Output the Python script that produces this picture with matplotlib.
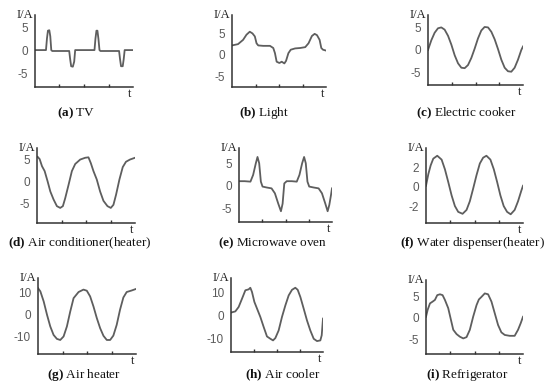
import matplotlib
matplotlib.use("Agg")
import matplotlib.pyplot as plt

plt.rcParams['mathtext.fontset'] = 'custom'
plt.rcParams['mathtext.bf'] = 'Liberation Serif:bold'
plt.rcParams['mathtext.rm'] = 'Liberation Serif'

# ---- data (time in % of the window, current in A) ----
tv_t = [0, 11.2, 12.2, 13.2, 14.6, 15.6, 16.6, 17.6, 34.9, 35.9, 36.9, 38.6, 40.0, 41.0,
        60.7, 61.7, 62.7, 63.7, 64.7, 65.8, 66.8, 85.8, 86.8, 87.8, 89.5, 90.5, 91.5, 100]
tv_i = [0, 0, 2.5, 4.2, 4.3, 3.0, 0, -0.2, -0.2, -2.0, -3.5, -3.6, -2.5, 0,
        0, 2.5, 4.2, 4.2, 2.5, 0, -0.2, -0.2, -2.0, -3.5, -3.5, -2.0, 0, 0]

light_t = [0, 6.4, 11.8, 15.4, 18.9, 21.8, 24.3, 26.1, 27.9, 33.2, 40.4, 43.9, 45.7, 47.5,
           50.4, 52.9, 55.7, 57.5, 60.0, 62.5, 67.1, 72.5, 77.9, 81.4, 85.0, 87.9, 90.4,
           93.2, 95.0, 96.8, 100]
light_i = [2.2, 2.5, 3.5, 4.7, 5.4, 5.0, 4.3, 2.7, 2.2, 2.1, 2.1, 1.6, 0.4, -1.6,
           -1.9, -1.6, -2.0, -1.4, 0.4, 1.2, 1.5, 1.6, 1.8, 2.7, 4.4, 4.9, 4.6,
           3.5, 1.6, 1.2, 1.0]

cooker_t = [0, 3.5, 7.0, 10.5, 14.0, 17.5, 21.1, 24.6, 28.1, 31.6, 35.1, 38.6, 42.1, 45.6,
            49.1, 52.6, 56.1, 59.6, 63.2, 66.7, 70.2, 73.7, 77.2, 80.7, 84.2, 87.7, 91.2,
            94.7, 98.2, 100]
cooker_i = [0, 2.2, 3.9, 4.9, 5.1, 4.6, 3.2, 1.2, -1.2, -3.0, -4.0, -4.1, -3.4, -1.8,
            0.3, 2.6, 4.4, 5.2, 5.1, 4.1, 2.4, 0.2, -2.2, -4.0, -4.8, -4.9, -4.0,
            -2.2, 0.0, 0.8]

ac_t = [0.7, 2.7, 5.1, 7.8, 10.8, 13.6, 16.9, 20.3, 23.7, 26.4, 28.8, 32.2, 35.6, 39.0,
        44.1, 49.2, 52.5, 54.9, 57.6, 61.0, 64.4, 67.8, 71.9, 75.3, 78.0, 80.7, 84.1,
        87.5, 90.8, 94.9, 100]
ac_i = [5.5, 5.0, 3.4, 2.3, 0, -2.3, -4.1, -5.6, -6.0, -5.6, -3.8, -0.8, 2.3, 3.9,
        4.9, 5.3, 5.4, 4.1, 2.3, 0.4, -2.3, -4.4, -5.6, -6.0, -5.3, -3.0, 0.4,
        3.2, 4.4, 4.9, 5.3]

mw_t = [0, 6.1, 12.3, 15.2, 18.1, 19.9, 21.7, 23.5, 25.3, 29.6, 35.0, 38.6, 42.2, 45.1,
        46.9, 48.7, 51.3, 56.7, 62.1, 65.0, 67.9, 70.0, 71.8, 73.6, 75.5, 80.1, 85.6,
        89.2, 92.8, 95.3, 97.1, 98.9, 100]
mw_i = [1.0, 1.0, 0.9, 2.4, 5.0, 6.4, 5.0, 0.9, -0.2, -0.4, -0.6, -1.7, -4.0, -5.7,
        -4.0, 0.5, 1.0, 1.0, 0.9, 2.4, 5.0, 6.4, 5.0, 0.9, -0.2, -0.4, -0.6,
        -1.7, -4.0, -5.7, -4.3, -2.1, -0.6]

wd_t = [0, 2.4, 4.8, 7.5, 11.6, 16.1, 19.5, 22.9, 26.4, 29.8, 33.2, 37.7, 41.8, 45.2,
        48.6, 52.1, 55.5, 58.9, 62.3, 66.4, 69.9, 73.3, 76.7, 80.1, 83.6, 87.3, 91.4,
        94.9, 98.3, 100]
wd_i = [0.1, 1.3, 2.2, 2.9, 3.2, 2.8, 1.8, 0.5, -0.9, -2.0, -2.6, -2.8, -2.4, -1.5,
        -0.2, 1.2, 2.4, 3.0, 3.2, 2.8, 1.8, 0.5, -0.9, -2.0, -2.6, -2.85, -2.4,
        -1.5, -0.4, 0.1]

ah_t = [0, 2.4, 5.8, 9.2, 12.5, 15.9, 19.3, 22.7, 26.1, 29.5, 32.9, 36.3, 41.4, 46.4,
        49.8, 53.2, 56.6, 60.0, 63.4, 66.8, 70.2, 73.6, 76.9, 80.3, 83.7, 87.1, 90.5,
        95.6, 100]
ah_i = [12.2, 10.7, 6.1, 0, -5.3, -9.2, -11.0, -11.5, -9.9, -5.3, 1.5, 7.6, 10.4, 11.5,
        11.0, 8.4, 3.8, -1.5, -6.1, -9.6, -11.5, -11.5, -9.5, -4.6, 2.3, 7.9, 10.4,
        11.1, 11.8]

acool_t = [0, 4.7, 8.3, 12.0, 15.6, 19.2, 21.0, 22.8, 25.4, 28.3, 31.9, 35.5, 39.1, 42.8,
           45.7, 48.2, 51.8, 55.4, 59.1, 62.7, 66.3, 69.9, 72.5, 75.4, 79.0, 82.6, 86.2,
           89.9, 93.5, 97.1, 98.6, 100]
acool_i = [1.2, 1.7, 3.6, 7.2, 10.8, 11.2, 11.9, 10.1, 5.8, 2.9, -0.7, -5.0, -9.1, -10.1,
           -10.8, -9.8, -6.5, -0.7, 4.3, 8.6, 11.0, 11.9, 11.0, 7.9, 2.9, -2.2, -6.5,
           -10.1, -11.1, -10.8, -8.6, -1.4]

fr_t = [0, 1.7, 4.1, 6.8, 9.2, 11.6, 14.4, 17.1, 19.5, 22.9, 25.7, 28.1, 31.5, 34.9,
        38.4, 41.8, 45.2, 48.6, 52.1, 54.5, 57.2, 60.6, 64.0, 67.5, 70.9, 74.3, 77.7,
        81.2, 86.3, 91.4, 94.9, 97.6, 100]
fr_i = [0.2, 1.8, 3.3, 3.7, 4.1, 5.2, 5.4, 5.2, 4.1, 2.2, -0.5, -2.8, -3.8, -4.4,
        -4.8, -4.5, -2.8, 0.2, 2.9, 4.2, 4.8, 5.6, 5.4, 3.7, 1.0, -1.7, -3.4,
        -4.0, -4.2, -4.2, -2.8, -1.3, 0.2]

letters = ['a', 'b', 'c', 'd', 'e', 'f', 'g', 'h', 'i']
names = ['TV', 'Light', 'Electric cooker', 'Air conditioner(heater)', 'Microwave oven',
         'Water dispenser(heater)', 'Air heater', 'Air cooler', 'Refrigerator']
yticks = [[-5, 0, 5], [-5, 0, 5], [-5, 0, 5], [-5, 0, 5], [-5, 0, 5], [-2, 0, 2],
          [-10, 0, 10], [-10, 0, 10], [-5, 0, 5]]
series = [(tv_t, tv_i), (light_t, light_i), (cooker_t, cooker_i), (ac_t, ac_i),
          (mw_t, mw_i), (wd_t, wd_i), (ah_t, ah_i), (acool_t, acool_i), (fr_t, fr_i)]

# ---- layout (pixels in a 550x388 figure) ----
W, H = 550, 388
boxes = [(35, 133, 15, 87), (232, 326, 15, 87), (428, 523, 15, 85),
         (37, 135, 148, 223), (239, 332, 148, 222), (426, 523, 148, 223),
         (38, 136, 278, 354), (231, 323, 278, 352), (426, 523, 280, 354)]
ylims = [(-8.0, 7.6), (-7.5, 9.3), (-7.9, 7.9), (-9.4, 7.5), (-8.1, 8.4), (-3.75, 4.0),
         (-17.9, 16.8), (-15.8, 16.1), (-8.4, 8.7)]
caps = [(76, 113), (264, 113), (466, 113), (80, 243), (273, 243), (472, 243),
        (84, 375), (283, 375), (467, 375)]

fig = plt.figure(figsize=(W / 100, H / 100), dpi=100)
line_col = '#5e5e5e'
spine_col = '#333333'

for k in range(9):
    L, R, T, B = boxes[k]
    ax = fig.add_axes([L / W, 1 - B / H, (R - L) / W, (B - T) / H])
    t, i = series[k]
    ax.plot(t, i, color=line_col, lw=1.3, solid_joinstyle='round')
    ax.set_xlim(0, 100)
    ax.set_ylim(*ylims[k])
    for s in ['top', 'right']:
        ax.spines[s].set_visible(False)
    for s in ['left', 'bottom']:
        ax.spines[s].set_color(spine_col)
        ax.spines[s].set_linewidth(1.1)
    ax.set_yticks(yticks[k])
    ax.set_yticklabels([str(v) for v in yticks[k]], family='Liberation Sans')
    ax.set_xticks([25, 50, 75])
    ax.set_xticklabels([])
    ax.tick_params(axis='y', length=0, pad=5, labelsize=8.5, labelcolor='#5a5a5a')
    ax.tick_params(axis='x', direction='in', length=2, width=1, color=spine_col)
    ax.text(-0.02, 1.0, 'I/A', transform=ax.transAxes, ha='right', va='center',
            fontsize=9, family='Liberation Serif', color='#222222')
    ax.annotate('t', xy=(1, 0), xycoords='axes fraction', xytext=(-3, -7),
                textcoords='offset pixels', ha='center', va='center',
                fontsize=9, family='Liberation Serif', color='#222222')
    cx, cy = caps[k]
    fig.text(cx / W, 1 - cy / H, r'$\mathbf{(%s)}$ %s' % (letters[k], names[k]),
             ha='center', va='center', fontsize=9.5, family='Liberation Serif',
             color='#111111')

fig.savefig('out.png', dpi=100, facecolor='white')
